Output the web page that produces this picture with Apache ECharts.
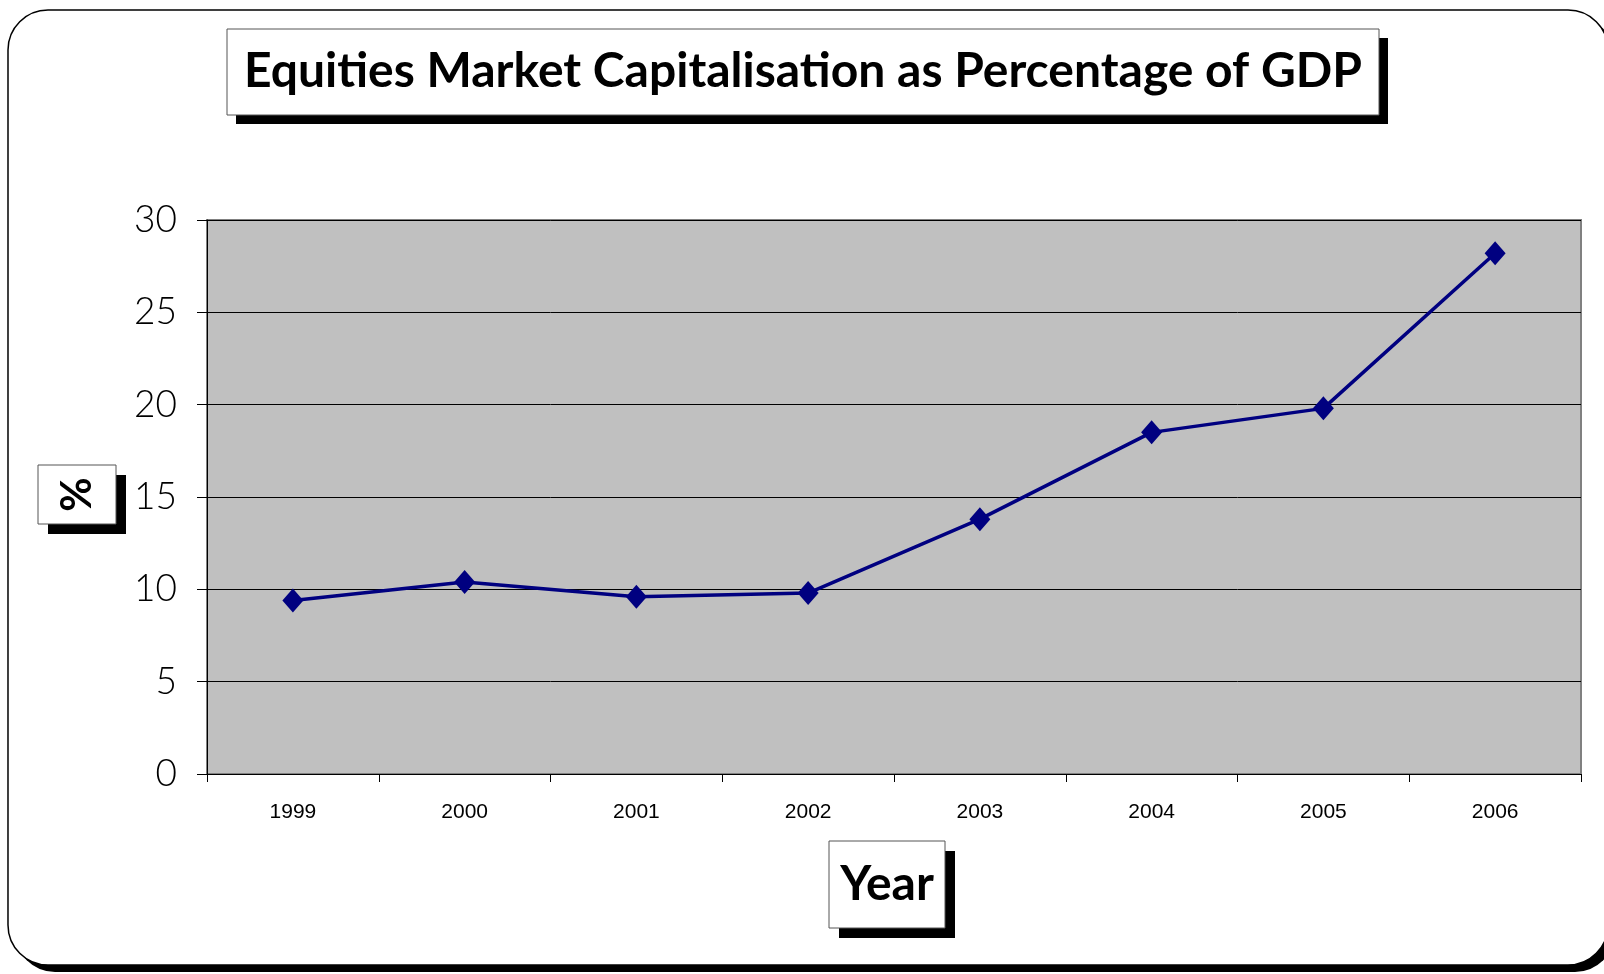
<!DOCTYPE html>
<html>
<head>
<meta charset="utf-8">
<script src="https://cdn.jsdelivr.net/npm/echarts@6/dist/echarts.min.js"></script>
<style>
  html, body { margin: 0; padding: 0; background: #fff; }
  #chart { width: 1604px; height: 974px; }
</style>
</head>
<body>
<div id="chart"></div>
<script>
// Equities market capitalisation (% of GDP) by year
const years = ['1999', '2000', '2001', '2002', '2003', '2004', '2005', '2006'];
const capPct = [9.4, 10.4, 9.6, 9.8, 13.8, 18.5, 19.8, 28.2];
const yTicks = [0, 5, 10, 15, 20, 25, 30];

const titleText = 'Equities Market Capitalisation as Percentage of GDP';
const yName = '%';
const xName = 'Year';

const heading = '"Lato", "DejaVu Sans", sans-serif';

// A white label box with a solid black drop shadow
function shadowBox(x, y, w, h, off, text, size, rot) {
  return [
    { type: 'rect', z: 10, shape: { x: x + off, y: y + off, width: w, height: h },
      style: { fill: '#000' } },
    { type: 'rect', z: 11, shape: { x: x, y: y, width: w, height: h },
      style: { fill: '#fff', stroke: '#555', lineWidth: 1 } },
    { type: 'text', z: 12, x: x + w / 2, y: y + h / 2, rotation: rot || 0,
      style: { text: text, fill: '#000', font: 'bold ' + size + 'px ' + heading,
               align: 'center', verticalAlign: 'middle' } }
  ];
}

const chart = echarts.init(document.getElementById('chart'), null, { renderer: 'canvas' });

chart.setOption({
  animation: false,
  backgroundColor: '#fff',
  graphic: [
    // outer rounded frame with heavy shadow
    { type: 'rect', z: -20, shape: { x: 15, y: 17, width: 1600, height: 955, r: 40 },
      style: { fill: '#000' } },
    { type: 'rect', z: -19, shape: { x: 8, y: 10, width: 1600, height: 955, r: 40 },
      style: { fill: '#fff', stroke: '#000', lineWidth: 1.5 } },
    ...shadowBox(227, 29, 1152, 86, 9, titleText, 48),
    ...shadowBox(38, 465, 78, 59, 10, yName, 42, Math.PI / 2),
    ...shadowBox(829, 841, 116, 87, 10, xName, 48)
  ],
  grid: {
    left: 207, right: 23, top: 220, bottom: 200,
    show: true, backgroundColor: '#c0c0c0', borderColor: '#808080', borderWidth: 2
  },
  xAxis: {
    type: 'category',
    data: years,
    boundaryGap: true,
    axisLine: { lineStyle: { color: '#000', width: 1 } },
    axisTick: { show: true, length: 8, lineStyle: { color: '#000' } },
    axisLabel: { color: '#000', fontFamily: '"Liberation Sans", Arial, sans-serif',
                 fontSize: 21, margin: 28 },
    splitLine: { show: false }
  },
  yAxis: {
    type: 'value',
    min: yTicks[0], max: yTicks[yTicks.length - 1], interval: 5,
    axisLine: { show: true, lineStyle: { color: '#000', width: 1 } },
    axisTick: { show: true, length: 10, lineStyle: { color: '#000' } },
    axisLabel: { color: '#000', fontFamily: '"Lato", "DejaVu Sans", sans-serif',
                 fontSize: 37, margin: 30, fontWeight: 300 },
    splitLine: { show: true, lineStyle: { color: '#000', width: 1 } }
  },
  series: [{
    type: 'line',
    data: capPct,
    symbol: 'diamond',
    symbolSize: [21, 24],
    lineStyle: { color: '#000080', width: 3.5 },
    itemStyle: { color: '#000080' }
  }]
});
</script>
</body>
</html>
